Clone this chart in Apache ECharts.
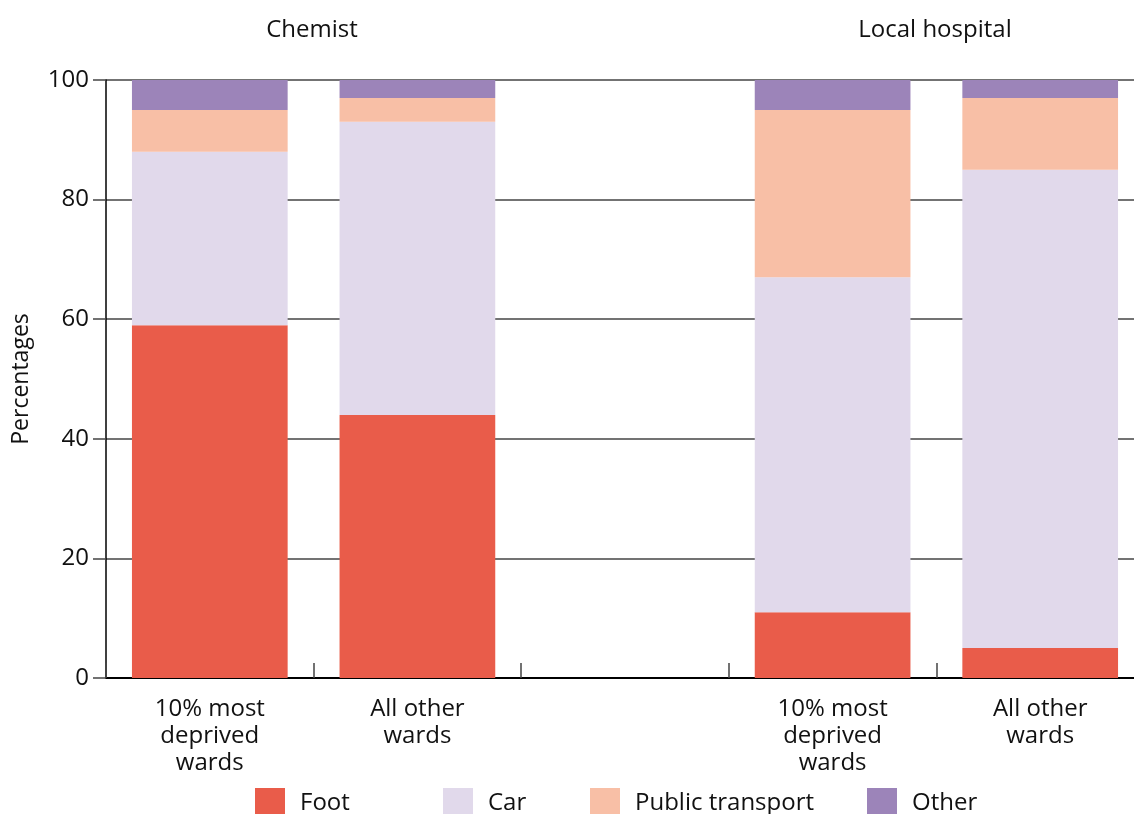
<!DOCTYPE html>
<html>
<head>
<meta charset="utf-8">
<script src="https://cdn.jsdelivr.net/npm/echarts@6/dist/echarts.min.js"></script>
<style>
  html, body { margin: 0; padding: 0; background: #fff; }
  #chart { width: 1134px; height: 814px; }
</style>
</head>
<body>
<div id="chart"></div>
<script>
// categories (the empty one is the gap between the two groups)
var categories = ['10% most\ndeprived\nwards', 'All other\nwards', '', '10% most\ndeprived\nwards', 'All other\nwards'];
var groupTitles = ['Chemist', 'Local hospital'];

// percentages per mode
var foot = [59, 44, null, 11, 5];
var car = [29, 49, null, 56, 80];
var publicTransport = [7, 4, null, 28, 12];
var other = [5, 3, null, 5, 3];

var fontName = 'Open Sans';
var myChart = echarts.init(document.getElementById('chart'));

function legendItem(name, left) {
    return {
        data: [name],
        left: left,
        top: 783,
        itemWidth: 30,
        itemHeight: 30,
        icon: 'rect',
        textStyle: { fontSize: 24, color: '#111', fontFamily: fontName, padding: [0, 0, 0, 10] }
    };
}

function bar(name, data, color) {
    return {
        name: name,
        type: 'bar',
        stack: 'total',
        data: data,
        barCategoryGap: '25%',
        itemStyle: { color: color },
        emphasis: { disabled: true }
    };
}

var option = {
    animation: false,
    textStyle: { fontFamily: fontName },
    grid: { left: 106, top: 80, width: 1038, height: 598, outerBoundsMode: 'none' },
    title: [
        { text: groupTitles[0], left: 307, top: 13, textAlign: 'center',
          textStyle: { fontSize: 24, fontWeight: 'normal', color: '#111', fontFamily: fontName } },
        { text: groupTitles[1], left: 930, top: 13, textAlign: 'center',
          textStyle: { fontSize: 24, fontWeight: 'normal', color: '#111', fontFamily: fontName } }
    ],
    legend: [
        legendItem('Foot', 250),
        legendItem('Car', 438),
        legendItem('Public transport', 585),
        legendItem('Other', 862)
    ],
    xAxis: {
        type: 'category',
        data: categories,
        axisLine: { lineStyle: { color: '#000', width: 2 } },
        axisTick: { show: true, interval: 0, inside: true, length: 15, lineStyle: { color: '#444', width: 1.5 } },
        axisLabel: { interval: 0, fontSize: 24, color: '#111', lineHeight: 27, margin: 18, fontFamily: fontName },
        splitLine: { show: false }
    },
    yAxis: {
        type: 'value',
        min: 0,
        max: 100,
        interval: 20,
        name: 'Percentages',
        nameLocation: 'middle',
        nameGap: 73,
        nameTextStyle: { fontSize: 23, color: '#111', fontFamily: fontName },
        axisLine: { show: true, lineStyle: { color: '#000', width: 1.5 } },
        axisTick: { show: true, length: 13, lineStyle: { color: '#444', width: 1.5 } },
        axisLabel: { fontSize: 24, color: '#111', margin: 17, fontFamily: fontName },
        splitLine: { lineStyle: { color: '#444', width: 1.5 } }
    },
    series: [
        bar('Foot', foot, '#E95C4A'),
        bar('Car', car, '#E1D9EB'),
        bar('Public transport', publicTransport, '#F8BFA6'),
        bar('Other', other, '#9C84B9')
    ]
};

myChart.setOption(option);
</script>
</body>
</html>
